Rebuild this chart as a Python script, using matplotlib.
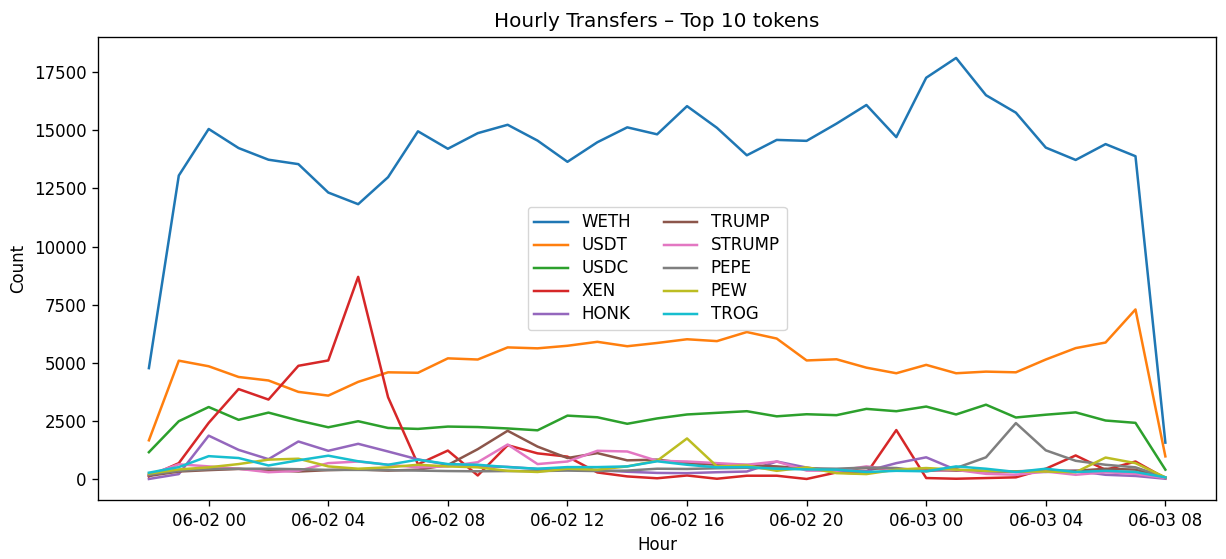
import numpy as np
import pandas as pd
import matplotlib
matplotlib.use('Agg')
import matplotlib.pyplot as plt
import matplotlib.dates as mdates

# hourly buckets, 06-01 22:00 to 06-03 08:00
hours = pd.date_range('2025-06-01 22:00', '2025-06-03 08:00', freq='h')

tokens = ['WETH', 'USDT', 'USDC', 'XEN', 'HONK', 'TRUMP', 'STRUMP', 'PEPE', 'PEW', 'TROG']

weth = [4780, 13050, 15050, 14230, 13730, 13540, 12320, 11820, 12980, 14950,
        14200, 14870, 15230, 14550, 13640, 14480, 15120, 14820, 16030, 15100,
        13920, 14580, 14540, 15280, 16080, 14700, 17250, 18100, 16500, 15750,
        14250, 13720, 14400, 13880, 1580]
usdt = [1680, 5100, 4860, 4400, 4250, 3760, 3600, 4190, 4600, 4580,
        5200, 5150, 5670, 5630, 5740, 5910, 5720, 5860, 6020, 5940,
        6330, 6050, 5110, 5160, 4800, 4560, 4920, 4560, 4630, 4600,
        5150, 5640, 5880, 7300, 990]
usdc = [1170, 2500, 3110, 2560, 2870, 2530, 2240, 2500, 2210, 2170,
        2270, 2250, 2190, 2110, 2740, 2670, 2390, 2620, 2790, 2860,
        2930, 2710, 2800, 2760, 3030, 2930, 3130, 2790, 3210, 2660,
        2780, 2880, 2530, 2430, 420]
xen = [130, 700, 2430, 3880, 3430, 4880, 5110, 8700, 3530, 650,
       1240, 170, 1470, 1120, 980, 300, 130, 50, 170, 30,
       160, 160, 20, 300, 250, 2120, 60, 30, 60, 90,
       460, 1030, 410, 770, 50]
honk = [20, 230, 1880, 1270, 870, 1630, 1230, 1530, 1200, 860,
        630, 560, 540, 450, 440, 400, 330, 280, 270, 310,
        340, 770, 510, 350, 360, 700, 950, 410, 350, 320,
        320, 370, 200, 150, 30]
trump = [150, 340, 400, 450, 400, 340, 400, 430, 380, 420,
         620, 1300, 2090, 1410, 920, 1130, 820, 850, 700, 630,
         620, 560, 460, 420, 490, 440, 400, 380, 360, 350,
         380, 370, 460, 420, 60]
strump = [200, 650, 560, 460, 310, 370, 700, 770, 630, 520,
          560, 740, 1500, 660, 770, 1230, 1200, 800, 770, 700,
          630, 770, 380, 370, 560, 410, 370, 410, 240, 200,
          340, 200, 310, 240, 60]
pepe = [200, 370, 440, 460, 460, 440, 410, 410, 400, 380,
        360, 350, 360, 360, 380, 360, 380, 460, 450, 480,
        500, 470, 480, 460, 510, 490, 350, 490, 950, 2420,
        1250, 800, 630, 520, 90]
pew = [250, 430, 520, 660, 850, 890, 560, 460, 520, 630,
       560, 520, 370, 320, 460, 420, 560, 800, 1760, 560,
       600, 370, 520, 270, 230, 420, 490, 420, 370, 340,
       340, 310, 940, 700, 90]
trog = [290, 530, 1000, 920, 600, 820, 1020, 780, 630, 850,
        660, 630, 530, 460, 530, 530, 560, 780, 630, 520,
        530, 460, 430, 420, 320, 370, 350, 560, 460, 320,
        460, 320, 370, 320, 90]

series = [weth, usdt, usdc, xen, honk, trump, strump, pepe, pew, trog]

# reference looks like a 120 dpi render, so scale the defaults by 1.2
s = 1.2
plt.rcParams.update({
    'font.size': 10 * s,
    'lines.linewidth': 1.5 * s,
    'axes.linewidth': 0.8 * s,
    'xtick.major.size': 3.5 * s,
    'ytick.major.size': 3.5 * s,
    'xtick.major.width': 0.8 * s,
    'ytick.major.width': 0.8 * s,
    'xtick.major.pad': 3.5 * s,
    'ytick.major.pad': 3.5 * s,
    'axes.titlepad': 6.0 * s,
    'axes.labelpad': 4.0 * s,
})

fig = plt.figure(figsize=(12.26, 5.59), dpi=100)
ax = fig.add_subplot()
fig.subplots_adjust(left=0.08, right=0.992, top=0.934, bottom=0.1055)

for name, vals in zip(tokens, series):
    ax.plot(hours, vals, label=name)

ax.xaxis.set_major_locator(mdates.HourLocator(byhour=range(0, 24, 4)))
ax.xaxis.set_major_formatter(mdates.DateFormatter('%m-%d %H'))

ax.set_title('Hourly Transfers – Top 10 tokens')
ax.set_xlabel('Hour')
ax.set_ylabel('Count')
ax.legend(loc='center', ncol=2, labelspacing=0.3)

fig.savefig('out.png', dpi=100)
